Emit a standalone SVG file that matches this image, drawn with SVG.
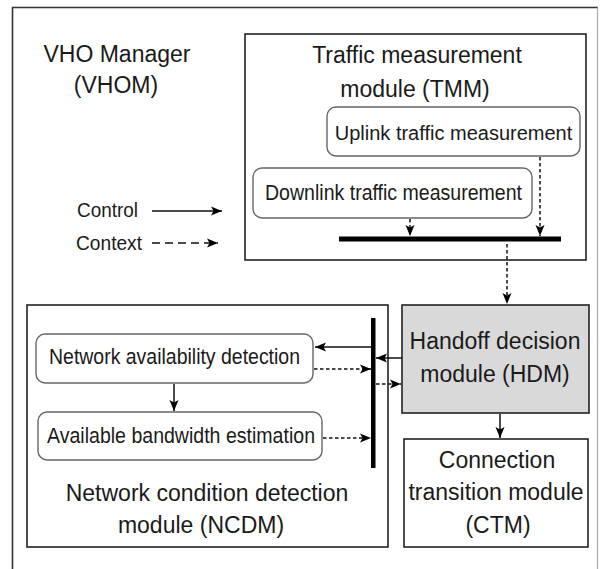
<svg xmlns="http://www.w3.org/2000/svg" width="602" height="569" viewBox="0 0 602 569">
<style>
text{font-family:"Liberation Sans",Arial,sans-serif;fill:#1a1a1a;}
.t23{font-size:23px;}
.t22{font-size:22.5px;}
.t19{font-size:20px;}
.box{fill:#fff;stroke:#222;stroke-width:1.6;}
.rbox{fill:#fff;stroke:#666;stroke-width:1.4;}
.solid{stroke:#111;stroke-width:1.5;fill:none;}
.dash{stroke:#111;stroke-width:1.5;fill:none;stroke-dasharray:3.5 2.5;}
.dashL{stroke:#111;stroke-width:1.5;fill:none;stroke-dasharray:8 5;}
.bar{fill:#000;}
</style>
<defs>
<marker id="ah" markerUnits="userSpaceOnUse" markerWidth="12" markerHeight="10" refX="11" refY="5" orient="auto">
<path d="M0,0.5 L11,5 L0,9.5 L2.5,5 Z" fill="#000"/>
</marker>
</defs>
<rect width="602" height="569" fill="#fff"/>
<g id="frame">
<path d="M12.5,575 L12.5,7.5 L598,7.5" fill="none" stroke="#333" stroke-width="1.6"/>
<line x1="597.5" y1="7.5" x2="597.5" y2="569" stroke="#aaa" stroke-width="1.2"/>
</g>
<g id="vhom">
<text class="t23" x="117" y="62" text-anchor="middle">VHO Manager</text>
<text class="t23" x="116" y="93" text-anchor="middle">(VHOM)</text>
</g>
<g id="legend">
<text class="t19" x="77" y="217" textLength="61" lengthAdjust="spacingAndGlyphs">Control</text>
<text class="t19" x="76" y="250" textLength="66" lengthAdjust="spacingAndGlyphs">Context</text>
</g>
<g id="tmm">
<rect class="box" x="245" y="34" width="341" height="226"/>
<text class="t23" x="417" y="63" text-anchor="middle">Traffic measurement</text>
<text class="t23" x="415" y="97" text-anchor="middle">module (TMM)</text>
</g>
<g id="uplink">
<rect class="rbox" x="327" y="107" width="253" height="49" rx="9"/>
<text x="453.5" y="140" text-anchor="middle" style="font-size:20px">Uplink traffic measurement</text>
</g>
<g id="downlink">
<rect class="rbox" x="253" y="168" width="279" height="50" rx="9"/>
<text class="t22" x="265" y="200" textLength="257" lengthAdjust="spacingAndGlyphs">Downlink traffic measurement</text>
</g>
<g id="ncdm">
<rect class="box" x="27" y="305" width="361" height="242"/>
<text class="t23" x="207" y="501" text-anchor="middle">Network condition detection</text>
<text class="t23" x="201" y="533" text-anchor="middle">module (NCDM)</text>
</g>
<g id="nad">
<rect class="rbox" x="36" y="334" width="277" height="49" rx="9"/>
<text class="t22" x="49" y="364" textLength="251" lengthAdjust="spacingAndGlyphs">Network availability detection</text>
</g>
<g id="abe">
<rect class="rbox" x="38" y="412" width="284" height="48" rx="9"/>
<text class="t22" x="47" y="443" textLength="268" lengthAdjust="spacingAndGlyphs">Available bandwidth estimation</text>
</g>
<g id="hdm">
<rect x="402" y="305" width="187" height="108" fill="#d9d9d9" stroke="#222" stroke-width="1.6"/>
<text class="t23" x="495" y="349" text-anchor="middle">Handoff decision</text>
<text class="t23" x="495" y="382" text-anchor="middle">module (HDM)</text>
</g>
<g id="ctm">
<rect class="box" x="404" y="439" width="184" height="108"/>
<text class="t23" x="497" y="468" text-anchor="middle">Connection</text>
<text class="t23" x="496" y="500" text-anchor="middle">transition module</text>
<text class="t23" x="498" y="533" text-anchor="middle">(CTM)</text>
</g>
<g id="connectors">
<rect class="bar" x="339" y="236.5" width="222" height="5"/>
<rect class="bar" x="371" y="318" width="4.5" height="150"/>
<line class="solid" x1="152" y1="211" x2="222" y2="211" marker-end="url(#ah)"/>
<line class="dashL" x1="152" y1="243" x2="218" y2="243" marker-end="url(#ah)"/>
<line class="dash" x1="410" y1="219" x2="410" y2="236" marker-end="url(#ah)"/>
<line class="dash" x1="540" y1="157" x2="540" y2="236" marker-end="url(#ah)"/>
<line class="dash" x1="507" y1="244" x2="507" y2="304" marker-end="url(#ah)"/>
<line class="solid" x1="371" y1="347" x2="315" y2="347" marker-end="url(#ah)"/>
<line class="solid" x1="402" y1="358" x2="376" y2="358" marker-end="url(#ah)"/>
<line class="dash" x1="314" y1="369" x2="371" y2="369" marker-end="url(#ah)"/>
<line class="dash" x1="376" y1="384" x2="401" y2="384" marker-end="url(#ah)"/>
<line class="dash" x1="323" y1="438" x2="371" y2="438" marker-end="url(#ah)"/>
<line class="solid" x1="174" y1="384" x2="174" y2="411" marker-end="url(#ah)"/>
<line class="solid" x1="500" y1="414" x2="500" y2="438" marker-end="url(#ah)"/>
</g>
</svg>
